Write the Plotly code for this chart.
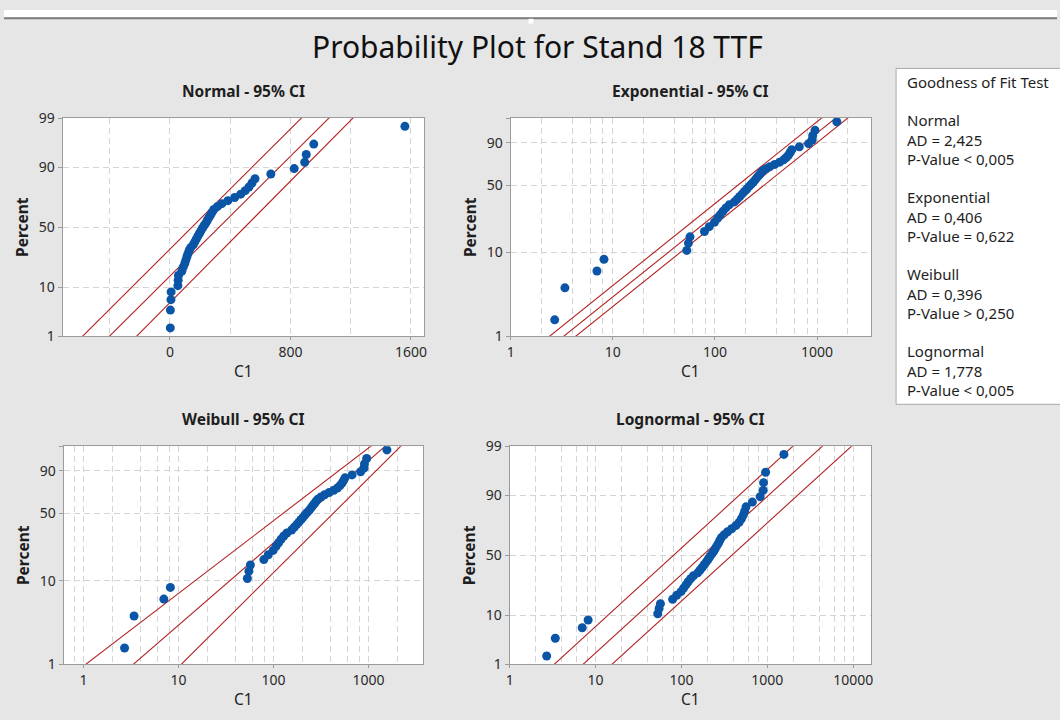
import math
import plotly.graph_objects as go

# ---------------- data ----------------
ttf = [2.7, 3.4, 7.0, 8.2, 53, 55, 57, 79, 88, 99, 106, 113, 120, 128, 138,
       155, 165, 175, 185, 195, 205, 215, 226, 238, 248, 258, 270, 280, 292,
       315, 345, 385, 430, 470, 500, 525, 545, 565, 670, 825, 895, 905, 955, 1560]

pct_ticks = [1, 10, 50, 90, 99]
normal_xticks = [0, 800, 1600]
normal_xgrid = [-400, 400, 1200]
log_major = [1, 10, 100, 1000, 10000]
log_minor_mult = [2, 4, 6, 8]

# fitted line and 95% CI bands: [lower band, fit, upper band]
normal_mu = [147, 327.5, 497.5]
normal_sigma = [312, 313, 308.5]
expo_theta = [240, 330, 433]
weib_shape = [0.887, 1.004, 1.152]
weib_scale = [189, 327, 580]
logn_mu10 = [1.909, 2.2485, 2.5865]
logn_sigma10 = [0.597, 0.5987, 0.5995]

gof_title = "Goodness of Fit Test"
gof_dist = ["Normal", "Exponential", "Weibull", "Lognormal"]
gof_ad = ["2,425", "0,406", "0,396", "1,778"]
gof_p = ["< 0,005", "= 0,622", "> 0,250", "< 0,005"]

FONT = "Noto Sans, Open Sans, sans-serif"
BG = "#E6E6E6"
DOT = "#0B55A6"
LINE = "#B22222"
GRID = "#D4D4D4"
BORDER = "#9C9C9C"
TXT = "#1E1E1E"
W, H = 1060, 720


def norm_ppf(p):
    a = [-3.969683028665376e+01, 2.209460984245205e+02, -2.759285104469687e+02,
         1.383577518672690e+02, -3.066479806614716e+01, 2.506628277459239e+00]
    b = [-5.447609879822406e+01, 1.615858368580409e+02, -1.556989798598866e+02,
         6.680131188771972e+01, -1.328068155288572e+01]
    c = [-7.784894002430293e-03, -3.223964580411365e-01, -2.400758277161838e+00,
         -2.549732539343734e+00, 4.374664141464968e+00, 2.938163982698783e+00]
    d = [7.784695709041462e-03, 3.224671290700398e-01, 2.445134137142996e+00,
         3.754408661907416e+00]
    plow = 0.02425
    if p < plow:
        q = math.sqrt(-2 * math.log(p))
        return (((((c[0]*q+c[1])*q+c[2])*q+c[3])*q+c[4])*q+c[5]) / ((((d[0]*q+d[1])*q+d[2])*q+d[3])*q+1)
    if p <= 1 - plow:
        q = p - 0.5
        r = q * q
        return (((((a[0]*r+a[1])*r+a[2])*r+a[3])*r+a[4])*r+a[5])*q / (((((b[0]*r+b[1])*r+b[2])*r+b[3])*r+b[4])*r+1)
    q = math.sqrt(-2 * math.log(1 - p))
    return -(((((c[0]*q+c[1])*q+c[2])*q+c[3])*q+c[4])*q+c[5]) / ((((d[0]*q+d[1])*q+d[2])*q+d[3])*q+1)


def weib_t(p):
    return math.log(-math.log(1 - p))


n = len(ttf)
xs = sorted(ttf)
pp = [(i + 1 - 0.3) / (n + 0.4) for i in range(n)]   # Benard median ranks
pline = [0.002, 0.998]


def px(v):
    return v / W


def py(v):
    return 1 - v / H


panels = [
    dict(title="Normal - 95% CI", xd=(59, 423), yd=(111, 335), yt=norm_ppf, xtype="linear",
         xr=[-712, 1688], q=[(lambda p, m=m, s=s: m + s * norm_ppf(p)) for m, s in zip(normal_mu, normal_sigma)],
         ylab=[1, 10, 50, 90, 99]),
    dict(title="Exponential - 95% CI", xd=(510, 873), yd=(111, 335), yt=weib_t, xtype="log",
         xr=[0, 3.53], q=[(lambda p, t=t: -t * math.log(1 - p)) for t in expo_theta],
         ylab=[1, 10, 50, 90]),
    dict(title="Weibull - 95% CI", xd=(60, 422), yd=(448, 672), yt=weib_t, xtype="log",
         xr=[-0.21, 3.575], q=[(lambda p, b=b, e=e: e * (-math.log(1 - p)) ** (1 / b)) for b, e in zip(weib_shape, weib_scale)],
         ylab=[1, 10, 50, 90]),
    dict(title="Lognormal - 95% CI", xd=(509, 873), yd=(448, 672), yt=norm_ppf, xtype="log",
         xr=[0, 4.21], q=[(lambda p, m=m, s=s: 10 ** (m + s * norm_ppf(p))) for m, s in zip(logn_mu10, logn_sigma10)],
         ylab=[1, 10, 50, 90, 99]),
]

fig = go.Figure()
annotations = []
shapes = []
layout_axes = {}
tickfont = dict(family=FONT, size=14, color="#2A2A2A")

for k, pn in enumerate(panels):
    sfx = "" if k == 0 else str(k + 1)
    xa, ya = "x" + sfx, "y" + sfx
    yt = pn["yt"]
    for qf in pn["q"]:
        fig.add_trace(go.Scatter(x=[qf(p) for p in pline], y=[yt(p) for p in pline],
                                 mode="lines", line=dict(color=LINE, width=1.1),
                                 xaxis=xa, yaxis=ya, hoverinfo="skip", showlegend=False))
    fig.add_trace(go.Scatter(x=xs, y=[yt(p) for p in pp], mode="markers",
                             marker=dict(color=DOT, size=9, line=dict(width=0)),
                             xaxis=xa, yaxis=ya, showlegend=False))

    yvals = [yt(v / 100) for v in pct_ticks]
    ylab = [str(v) if v in pn["ylab"] else "" for v in pct_ticks]
    yaxis = dict(domain=[py(pn["yd"][1]), py(pn["yd"][0])], anchor=xa,
                 range=[yt(0.01), yt(0.99)], tickmode="array", tickvals=yvals, ticktext=ylab,
                 showgrid=True, gridcolor=GRID, griddash="6px,4px", gridwidth=1,
                 showline=True, mirror=True, linecolor=BORDER, linewidth=1,
                 ticks="outside", ticklen=4, tickcolor=BORDER, zeroline=False,
                 tickfont=tickfont, fixedrange=True)
    if pn["xtype"] == "linear":
        xaxis = dict(type="linear", range=pn["xr"], tickmode="array", tickvals=normal_xticks,
                     minor=dict(tickmode="array", tickvals=normal_xgrid, showgrid=True,
                                gridcolor=GRID, griddash="6px,4px", ticks=""))
    else:
        lo, hi = 10 ** pn["xr"][0], 10 ** pn["xr"][1]
        majors = [v for v in log_major if lo * 0.999 <= v <= hi]
        minors = []
        for dec in [0.1, 1, 10, 100, 1000, 10000]:
            for m in log_minor_mult:
                v = m * dec
                if lo < v < hi:
                    minors.append(v)
        xaxis = dict(type="log", range=pn["xr"], tickmode="array", tickvals=majors,
                     ticktext=[str(v) for v in majors],
                     minor=dict(tickmode="array", tickvals=minors, showgrid=True,
                                gridcolor=GRID, griddash="6px,4px", ticks=""))
    xaxis.update(domain=[px(pn["xd"][0]), px(pn["xd"][1])], anchor=ya,
                 showgrid=True, gridcolor=GRID, griddash="6px,4px", gridwidth=1,
                 showline=True, mirror=True, linecolor=BORDER, linewidth=1,
                 ticks="outside", ticklen=3, tickcolor=BORDER, zeroline=False,
                 tickfont=tickfont, fixedrange=True)
    layout_axes["xaxis" + sfx] = xaxis
    layout_axes["yaxis" + sfx] = yaxis

    cx = (pn["xd"][0] + pn["xd"][1]) / 2
    annotations.append(dict(text="<b>" + pn["title"] + "</b>", x=px(cx), y=py(pn["yd"][0] - 28),
                            xref="paper", yref="paper", xanchor="center", yanchor="middle", showarrow=False,
                            font=dict(family=FONT, size=15.5, color=TXT)))
    annotations.append(dict(text="C1", x=px(cx), y=py(pn["yd"][1] + 36), xref="paper", yref="paper",
                            xanchor="center", yanchor="middle", borderpad=0,
                            showarrow=False, font=dict(family=FONT, size=15.5, color=TXT)))
    annotations.append(dict(text="<b>Percent</b>", x=px(pn["xd"][0] - 41), y=py((pn["yd"][0] + pn["yd"][1]) / 2),
                            xref="paper", yref="paper", xanchor="center", yanchor="middle",
                            showarrow=False, textangle=-90,
                            font=dict(family=FONT, size=15.5, color=TXT)))

annotations.append(dict(text="Probability Plot for Stand 18 TTF", x=px(537), y=py(37),
                        xref="paper", yref="paper", xanchor="center", yanchor="middle", showarrow=False,
                        font=dict(family=FONT, size=30, color="#111111")))

# goodness of fit box
shapes.append(dict(type="rect", xref="paper", yref="paper", x0=px(898), x1=px(1075),
                   y0=py(405), y1=py(60), fillcolor="white", line=dict(color="#A8A8A8", width=1), layer="below"))
annotations.append(dict(text=gof_title, x=px(908), y=py(74), xref="paper", yref="paper",
                        xanchor="left", yanchor="middle", showarrow=False, borderpad=0,
                        font=dict(family=FONT, size=15, color=TXT)))
for k, (d, a, p) in enumerate(zip(gof_dist, gof_ad, gof_p)):
    block = d + "<br>AD = " + a + "<br>P-Value " + p
    annotations.append(dict(text=block, x=px(908), y=py(114 + k * 79 + 19.5), xref="paper", yref="paper",
                            xanchor="left", yanchor="middle", align="left", showarrow=False, borderpad=0,
                            font=dict(family=FONT, size=15, color=TXT)))

# window frame strip at the top
shapes.append(dict(type="rect", xref="paper", yref="paper", x0=0, x1=1, y0=py(7.5), y1=1,
                   fillcolor="white", line=dict(width=0), layer="below"))
shapes.append(dict(type="line", xref="paper", yref="paper", x0=0, x1=1, y0=py(8.5), y1=py(8.5),
                   line=dict(color="#7A7A7A", width=2)))
shapes.append(dict(type="rect", xref="paper", yref="paper", x0=px(528), x1=px(533), y0=py(14), y1=py(9),
                   fillcolor="white", line=dict(width=0)))

fig.update_layout(width=W, height=H, margin=dict(l=0, r=0, t=0, b=0),
                  paper_bgcolor=BG, plot_bgcolor="white", showlegend=False,
                  annotations=annotations, shapes=shapes, **layout_axes)

fig.write_html("out.html", post_script="document.body.style.margin='0px';")
